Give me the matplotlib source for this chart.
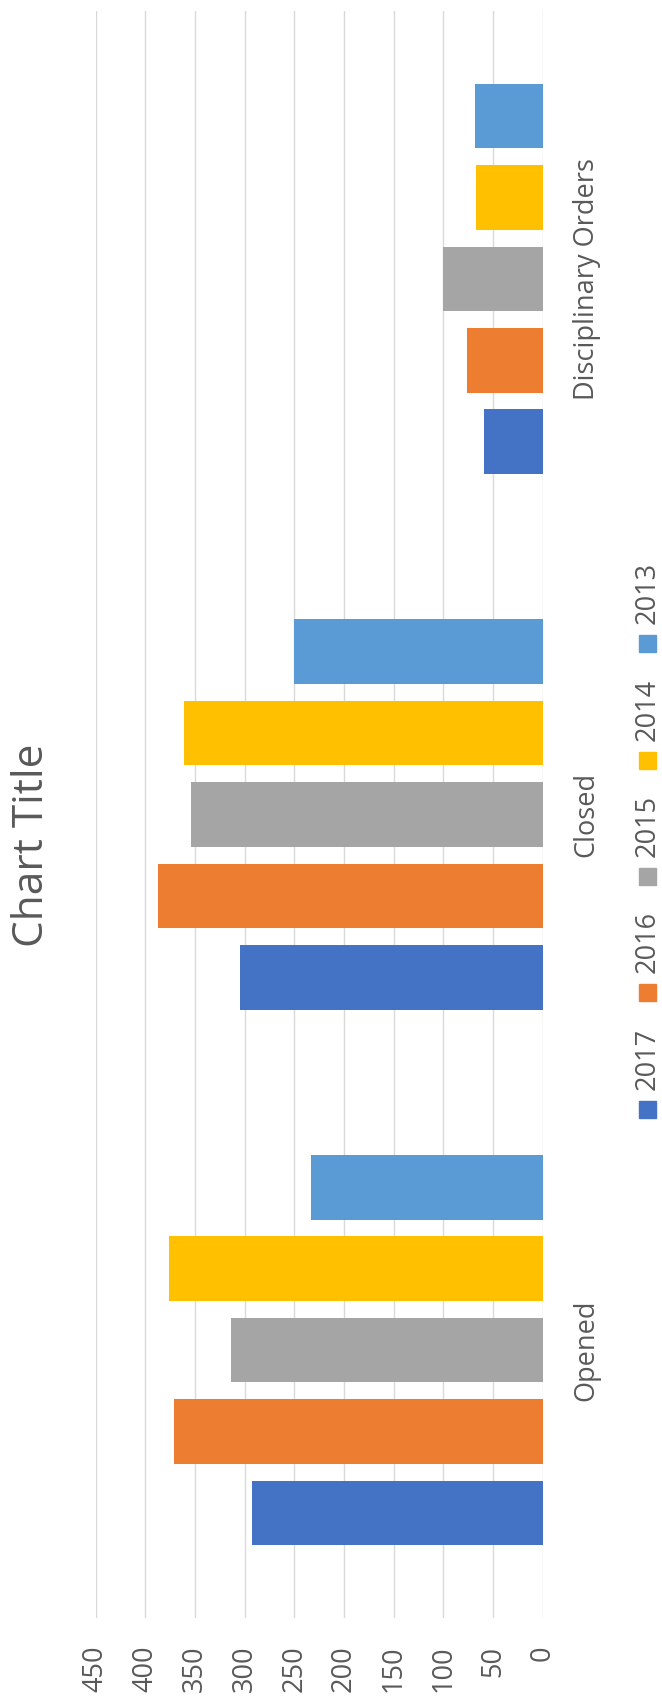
import numpy as np
import matplotlib
matplotlib.use("Agg")
import matplotlib.pyplot as plt
from matplotlib.patches import Rectangle

plt.rcParams['font.family'] = ['Open Sans', 'DejaVu Sans']

# data
categories = ['Opened', 'Closed', 'Disciplinary Orders']
years = ['2017', '2016', '2015', '2014', '2013']
v2017 = [293, 305, 59]
v2016 = [371, 387, 76]
v2015 = [314, 354, 100]
v2014 = [376, 361, 67]
v2013 = [233, 250, 68]
series = [v2017, v2016, v2015, v2014, v2013]
colors = ['#4472C4', '#ED7D31', '#A5A5A5', '#FFC000', '#5B9BD5']
ticks = np.arange(0, 451, 50)

W, H, DPI = 662, 1704, 100
txt = '#595959'
fig = plt.figure(figsize=(W / DPI, H / DPI), dpi=DPI)
# axes box in pixels: left 95.6, right 542.8, top 11, bottom 1618
ax = fig.add_axes([95.6 / W, 1 - 1618 / H, (542.8 - 95.6) / W, (1618 - 11) / H])

# column chart turned on its side: values run right-to-left
y = np.arange(len(categories))
pitch, bh = 0.152, 0.1205
for i, (vals, c) in enumerate(zip(series, colors)):
    ax.barh(y + (i - 2) * pitch, vals, height=bh, color=c, zorder=3)

ax.set_xlim(450, 0)
ax.set_ylim(-0.5, len(categories) - 0.5)
ax.set_xticks(ticks)
ax.set_xticklabels([str(t) for t in ticks], rotation=90, fontsize=19.5, color=txt)
ax.grid(axis='x', color='#d9d9d9', linewidth=1.0, zorder=0)
ax.tick_params(axis='x', length=0, pad=20)

ax.yaxis.tick_right()
ax.set_yticks(y)
ax.set_yticklabels(categories, rotation=90, fontsize=19.5, color=txt, va='center')
ax.tick_params(axis='y', length=0, pad=21.5)
for s in ax.spines.values():
    s.set_visible(False)

# title on the left edge
fig.text(32 / W, 1 - 845 / H, 'Chart Title', rotation=90, fontsize=30.5,
         color=txt, ha='center', va='center')

# legend column on the right edge, 2017 at the bottom
sq = 17
cx = 647.5
first = 1109.3
step = 116.4
for k, (name, c) in enumerate(zip(years, colors)):
    cy = first - k * step
    fig.patches.append(Rectangle(((cx - sq / 2) / W, 1 - (cy + sq / 2) / H), sq / W, sq / H,
                                 transform=fig.transFigure, color=c, figure=fig))
    fig.text(cx / W, 1 - (cy - sq / 2 - 11) / H, name, rotation=90, fontsize=19.5,
             color=txt, ha='center', va='bottom')

fig.savefig('out.png', dpi=DPI, facecolor='white')
